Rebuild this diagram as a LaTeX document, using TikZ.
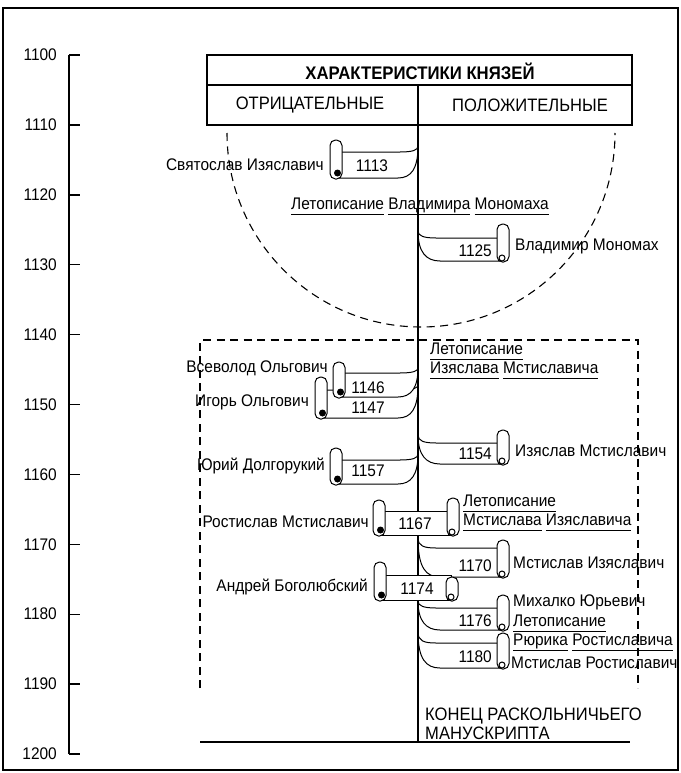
\documentclass[tikz,border=0pt]{standalone}
\usepackage{fontspec}
\setmainfont{Liberation Sans}[FakeStretch=0.92]
\newcommand{\ulword}[1]{\underline{#1\rule[-3.5pt]{0pt}{0pt}}}
\newcommand{\negscroll}[5]% roll x, cap top, attach y, band top, band bottom
{\draw[scroll] (#1+6,#4) -- (400,#4) .. controls (413,#4) and (418,#4-2) .. (418,#3)
   .. controls (418,#5-9) and (411,#5) .. (398,#5) -- (#1+6,#5) -- cycle;
 \draw[scroll,rounded corners=5.5pt] (#1,#2) rectangle (#1+12,#5+1);
 \fill (#1+7.5,#5-5) circle (3.5pt);
}
\newcommand{\posscroll}[5]% roll x, cap top, attach y, band top, band bottom
{\draw[scroll] (418,#3) .. controls (418,#4-2) and (424,#4) .. (436,#4) -- (#1+5,#4)
   -- (#1+5,#5) -- (440,#5) .. controls (426,#5) and (418,#5-9) .. (418,#3) -- cycle;
 \draw[scroll,rounded corners=5.5pt] (#1,#2) rectangle (#1+12,#5+1);
 \draw[scroll] (#1+5,#5-3) circle (3pt);
}
\newcommand{\bothscroll}[6]% left roll x, left cap, right roll x, right cap, band top, band bottom
{\draw[scroll] (#1+6,#5) rectangle (#3+5,#6);
 \draw[scroll,rounded corners=5.5pt] (#1,#2) rectangle (#1+12,#6+1);
 \fill (#1+7.5,#6-5) circle (3.5pt);
 \draw[scroll,rounded corners=5.5pt] (#3,#4) rectangle (#3+12,#6+1);
 \draw[scroll] (#3+5,#6-3) circle (3pt);
}
\tikzset{
  lbl/.style={font=\fontsize{16.8}{19}\selectfont, inner sep=0pt},
  num/.style={font=\fontsize{16.8}{18}\selectfont, inner sep=0pt},
  caps/.style={font=\fontsize{18}{19}\selectfont, inner sep=0pt},
  scroll/.style={draw, line width=1pt, fill=white},
  pole/.style={line width=2pt},
  axis/.style={line width=1.4pt},
  dashline/.style={dash pattern=on 8pt off 5.5pt, line width=1.1pt}
}
\begin{document}
\begin{tikzpicture}[x=1pt,y=-1pt]
\useasboundingbox (0,0) rectangle (680,773);
\draw[line width=1.3pt] (3,8) rectangle (678,770);
% time axis
\draw[axis] (69,55) -- (69,754);
\foreach \k in {0,...,10}{
  \pgfmathtruncatemacro{\yr}{1100+10*\k}
  \draw[axis] (69,{55+\k*69.9}) -- ++(11,0);
  \node[lbl,anchor=east] (t\yr) at (57,{55+\k*69.9}) {\yr};
}
% header
\draw[line width=1.1pt] (207,55) rectangle (632,125);
\draw[line width=1.1pt] (207,85) -- (632,85);
\node[caps,font=\fontsize{18.2}{19}\selectfont\bfseries] (title) at (420,71) {ХАРАКТЕРИСТИКИ КНЯЗЕЙ};
\node[caps] (neg) at (310,105) {ОТРИЦАТЕЛЬНЫЕ};
\node[caps] (pos) at (530,105) {ПОЛОЖИТЕЛЬНЫЕ};
% dashed regions
\draw[dashline] (227,133) arc[start angle=180, end angle=360, radius=194pt];
\draw[dashline] (200,688) -- (200,340) -- (638,340) -- (638,688);
\draw[line width=1.1pt] (200,742) -- (630,742);
% scrolls
\negscroll{330}{140}{146}{152}{178}
\posscroll{497}{224}{231}{238}{261}
\negscroll{315}{377}{385}{390}{418}
\negscroll{333}{362}{368}{373}{397}
\posscroll{497}{430}{435}{443}{464}
\negscroll{330}{448}{454}{460}{484}
\posscroll{497}{540}{538}{548}{577}
\posscroll{497}{595}{601}{608}{630}
\posscroll{497}{633}{632}{643}{668}
\draw[pole] (418,85) -- (418,742);
\bothscroll{373}{500}{447}{498}{511}{535}
\bothscroll{374}{562}{446}{577}{575}{600}
% years
\node[num] (n1113) at (372,166) {1113};
\node[num,anchor=east] (n1125) at (492,251) {1125};
\node[num] (n1146) at (368,388) {1146};
\node[num] (n1147) at (368,408) {1147};
\node[num,anchor=east] (n1154) at (492,454) {1154};
\node[num] (n1157) at (368,471) {1157};
\node[num] (n1167) at (415,524) {1167};
\node[num,anchor=east] (n1170) at (492,566) {1170};
\node[num] (n1174) at (417,589) {1174};
\node[num,anchor=east] (n1176) at (492,621) {1176};
\node[num,anchor=east] (n1180) at (492,657) {1180};
% princes
\node[lbl,anchor=east] (svyatoslav) at (324,165) {Святослав Изяславич};
\node[lbl,anchor=east] (vsevolod) at (328,368) {Всеволод Ольгович};
\node[lbl,anchor=east] (igor) at (309,402) {Игорь Ольгович};
\node[lbl,anchor=east] (yuri) at (325,466) {Юрий Долгорукий};
\node[lbl,anchor=east] (rostislav) at (369,522) {Ростислав Мстиславич};
\node[lbl,anchor=east] (andrey) at (368,587) {Андрей Боголюбский};
\node[lbl,anchor=west] (vladimir) at (515,246) {Владимир Мономах};
\node[lbl,anchor=west] (izyaslav) at (515,451) {Изяслав Мстиславич};
\node[lbl,anchor=west] (mstislavI) at (513,563) {Мстислав Изяславич};
\node[lbl,anchor=west] (mikhalko) at (513,602) {Михалко Юрьевич};
\node[lbl,anchor=west] (mstislavR) at (511,663) {Мстислав Ростиславич};
% chronicles
\node[lbl] (letVlad) at (420,206) {\ulword{Летописание} \ulword{Владимира} \ulword{Мономаха}};
\node[lbl,anchor=west,align=left] (letIzya) at (430,361) {\ulword{Летописание}\\\ulword{Изяслава} \ulword{Мстиславича}};
\node[lbl,anchor=west,align=left] (letMst) at (463,513) {\ulword{Летописание}\\\ulword{Мстислава} \ulword{Изяславича}};
\node[lbl,anchor=west,align=left] (letRyurik) at (513,633) {\ulword{Летописание}\\\ulword{Рюрика} \ulword{Ростиславича}};
\node[caps,anchor=west,align=left] (finis) at (425,724) {КОНЕЦ РАСКОЛЬНИЧЬЕГО\\МАНУСКРИПТА};
\end{tikzpicture}
\end{document}
